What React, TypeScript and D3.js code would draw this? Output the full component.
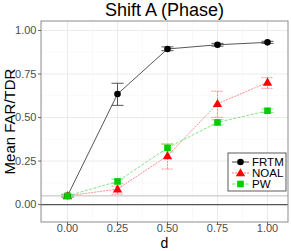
import React from "react";
import * as d3 from "d3";

const dValues = [0, 0.25, 0.5, 0.75, 1.0];
const seriesNames = ["FRTM", "NOAL", "PW"];

// mean, lower, upper per d
const frtmMean = [0.05, 0.635, 0.894, 0.918, 0.932];
const frtmLow = [0.043, 0.57, 0.884, 0.91, 0.926];
const frtmHigh = [0.057, 0.697, 0.906, 0.926, 0.938];

const noalMean = [0.05, 0.089, 0.28, 0.579, 0.702];
const noalLow = [0.04, 0.06, 0.204, 0.501, 0.668];
const noalHigh = [0.06, 0.106, 0.348, 0.651, 0.729];

const pwMean = [0.05, 0.133, 0.326, 0.472, 0.539];
const pwLow = [0.042, 0.12, 0.303, 0.457, 0.529];
const pwHigh = [0.058, 0.146, 0.348, 0.487, 0.549];

const xTicks = [0, 0.25, 0.5, 0.75, 1.0];
const yTicks = [0, 0.25, 0.5, 0.75, 1.0];

const W = 291;
const H = 251;
const panel = { left: 41, right: 288, top: 21, bottom: 222 };
const font = "'Liberation Sans', Arial, sans-serif";

const series = [
  { name: "FRTM", mean: frtmMean, low: frtmLow, high: frtmHigh, color: "#000000", line: "#444444", dash: "none", shape: "circle" },
  { name: "NOAL", mean: noalMean, low: noalLow, high: noalHigh, color: "#ff0000", line: "#ff8080", dash: "2,1", shape: "triangle" },
  { name: "PW", mean: pwMean, low: pwLow, high: pwHigh, color: "#00cc00", line: "#77e077", dash: "3,1.5", shape: "square" },
];

const x = d3.scaleLinear().domain([-0.1325, 1.1025]).range([panel.left, panel.right]);
const y = d3.scaleLinear().domain([-0.1, 1.0546]).range([panel.bottom, panel.top]);

function Marker({ shape, cx, cy, color }: { shape: string; cx: number; cy: number; color: string }) {
  if (shape === "circle") return <circle cx={cx} cy={cy} r={3.3} fill={color} />;
  if (shape === "square") return <rect x={cx - 3.3} y={cy - 3.3} width={6.6} height={6.6} fill={color} />;
  const p = d3.symbol().type(d3.symbolTriangle).size(38)();
  return <path d={p || ""} transform={`translate(${cx},${cy + 0.6})`} fill={color} />;
}

export default function App() {
  const line = d3.line<number>().x((_, i) => x(dValues[i])).y((v) => y(v));
  const minorX = d3.range(-0.125, 1.1, 0.25);
  const minorY = d3.range(-0.125, 1.1, 0.25).filter((v) => y(v) > panel.top && y(v) < panel.bottom);
  const capHalf = x(0.03) - x(0);

  return (
    <svg width={W} height={H} style={{ position: "absolute", left: 0, top: 0 }}>
      <rect width={W} height={H} fill="#fff" />
      <text x={(panel.left + panel.right) / 2} y={16} textAnchor="middle" fontFamily={font} fontSize={18} fill="#000">
        Shift A (Phase)
      </text>
      <clipPath id="pc">
        <rect x={panel.left} y={panel.top} width={panel.right - panel.left} height={panel.bottom - panel.top} />
      </clipPath>
      <g clipPath="url(#pc)">
        {minorX.map((v) => (
          <line key={"mx" + v} x1={x(v)} x2={x(v)} y1={panel.top} y2={panel.bottom} stroke="#f2f2f2" strokeWidth={0.5} />
        ))}
        {minorY.map((v) => (
          <line key={"my" + v} y1={y(v)} y2={y(v)} x1={panel.left} x2={panel.right} stroke="#f2f2f2" strokeWidth={0.5} />
        ))}
        {xTicks.map((v) => (
          <line key={"gx" + v} x1={x(v)} x2={x(v)} y1={panel.top} y2={panel.bottom} stroke="#ebebeb" strokeWidth={1} />
        ))}
        {yTicks.map((v) => (
          <line key={"gy" + v} y1={y(v)} y2={y(v)} x1={panel.left} x2={panel.right} stroke="#ebebeb" strokeWidth={1} />
        ))}
        <line x1={panel.left} x2={panel.right} y1={y(0.05)} y2={y(0.05)} stroke="#bdbdbd" strokeWidth={1} />
        <line x1={panel.left} x2={panel.right} y1={y(0)} y2={y(0)} stroke="#555" strokeWidth={1.2} />
        {series.map((s) => (
          <g key={s.name}>
            <path d={line(s.mean) || ""} fill="none" stroke={s.line} strokeWidth={0.9} strokeDasharray={s.dash} />
            {dValues.map((d, i) => (
              <g key={i} stroke={s.line} strokeWidth={0.9} strokeDasharray={s.dash}>
                <line x1={x(d)} x2={x(d)} y1={y(s.low[i])} y2={y(s.high[i])} />
                <line x1={x(d) - capHalf} x2={x(d) + capHalf} y1={y(s.low[i])} y2={y(s.low[i])} />
                <line x1={x(d) - capHalf} x2={x(d) + capHalf} y1={y(s.high[i])} y2={y(s.high[i])} />
              </g>
            ))}
          </g>
        ))}
        {series.map((s) =>
          dValues.map((d, i) => <Marker key={s.name + i} shape={s.shape} cx={x(d)} cy={y(s.mean[i])} color={s.color} />)
        )}
      </g>
      <rect x={panel.left} y={panel.top} width={panel.right - panel.left} height={panel.bottom - panel.top} fill="none" stroke="#8c8c8c" strokeWidth={1} />
      {yTicks.map((v) => (
        <g key={"ty" + v}>
          <line x1={panel.left - 3} x2={panel.left} y1={y(v)} y2={y(v)} stroke="#444" strokeWidth={0.8} />
          <text x={panel.left - 4.5} y={y(v) + 3.8} textAnchor="end" fontFamily={font} fontSize={11} fill="#4d4d4d">
            {d3.format(".2f")(v)}
          </text>
        </g>
      ))}
      {xTicks.map((v) => (
        <g key={"tx" + v}>
          <line y1={panel.bottom} y2={panel.bottom + 3} x1={x(v)} x2={x(v)} stroke="#444" strokeWidth={0.8} />
          <text x={x(v)} y={232} textAnchor="middle" fontFamily={font} fontSize={11} fill="#4d4d4d">
            {d3.format(".2f")(v)}
          </text>
        </g>
      ))}
      <text x={(panel.left + panel.right) / 2} y={247.5} textAnchor="middle" fontFamily={font} fontSize={14} fill="#000">
        d
      </text>
      <text
        transform={`translate(15,${(panel.top + panel.bottom) / 2}) rotate(-90)`}
        textAnchor="middle"
        fontFamily={font}
        fontSize={15}
        fill="#000"
      >
        Mean FAR/TDR
      </text>
      <g>
        <rect x={228} y={153} width={58} height={38} fill="#fff" stroke="#333" strokeWidth={0.8} />
        {series.map((s, i) => {
          const ly = 162 + i * 11;
          return (
            <g key={"lg" + s.name}>
              <line x1={232} x2={249} y1={ly} y2={ly} stroke={s.line} strokeWidth={1} strokeDasharray={s.dash} />
              <Marker shape={s.shape} cx={240.5} cy={ly} color={s.color} />
              <text x={252} y={ly + 4} fontFamily={font} fontSize={11.5} fill="#000">
                {seriesNames[i]}
              </text>
            </g>
          );
        })}
      </g>
    </svg>
  );
}
